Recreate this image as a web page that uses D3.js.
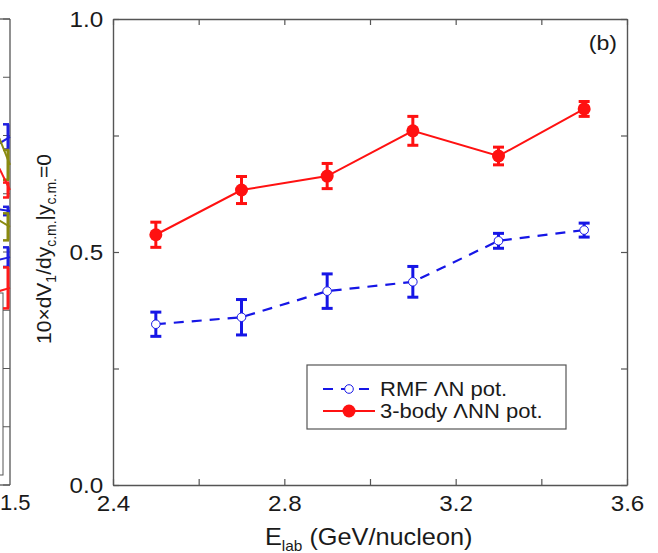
<!DOCTYPE html>
<html>
<head>
<meta charset="utf-8">
<script src="https://cdn.jsdelivr.net/npm/d3@7"></script>
<style>
  html, body { margin: 0; padding: 0; background: #fff; }
  svg { display: block; font-family: "Liberation Sans", Arial, sans-serif; }
</style>
</head>
<body>
<svg id="chart" width="658" height="553"></svg>
<script>
// ---------------- data ----------------
const energies = [2.5, 2.7, 2.9, 3.1, 3.3, 3.5];
const rmfValues = [0.345, 0.360, 0.416, 0.436, 0.524, 0.547];
const rmfErrors = [0.026, 0.038, 0.037, 0.033, 0.016, 0.015];
const threeBodyValues = [0.537, 0.633, 0.663, 0.760, 0.706, 0.807];
const threeBodyErrors = [0.027, 0.029, 0.027, 0.031, 0.019, 0.016];
const seriesNames = ["RMF \u039BN pot.", "3-body \u039BNN pot."];
const xTickValues = [2.4, 2.6, 2.8, 3.0, 3.2, 3.4, 3.6];
const xTickLabels = ["2.4", "", "2.8", "", "3.2", "", "3.6"];
const yTickValues = [0, 0.25, 0.5, 0.75, 1.0];
const yTickLabels = ["0.0", "", "0.5", "", "1.0"];
const panelLabel = "(b)";

// fragment of neighbouring panel (a), only its right edge visible
const leftXs = [1.4, 1.5];
const leftTickValues = [0, 0.125, 0.25, 0.375, 0.5, 0.625, 0.75, 0.875, 1.0];
const leftTickLabel = "1.5";
const leftSeriesColors = ["#1f1fe0", "#8a8a10", "#ff1a1a", "#1f1fe0", "#8a8a10", "#1f1fe0", "#ff1a1a"];
const leftSeriesValues = [
  [0.70, 0.747], [0.88, 0.687], [0.79, 0.633], [0.60, 0.588],
  [0.60, 0.554], [0.47, 0.489], [0.40, 0.423]
];
const leftSeriesErrors = [0.027, 0.032, 0.016, 0.009, 0.029, 0.021, 0.044];

// ---------------- drawing ----------------
const svg = d3.select("#chart");
const W = 658, H = 553;
const m = { left: 113, right: 627, top: 19, bottom: 485 };
const textColor = "#1a1a1a";
const frameColor = "#555";
const RED = "#ff1111", BLUE = "#1616e6";
const STRETCH = "scale(1.1,1)";

const x = d3.scaleLinear().domain([2.4, 3.6]).range([m.left, m.right]);
const y = d3.scaleLinear().domain([0, 1]).range([m.bottom, m.top]);

// ---- left (cut-off) panel ----
const xl = d3.scaleLinear().domain([1.0, 1.5]).range([-170, 10]);
const gl = svg.append("g");
gl.append("rect").attr("x", -120).attr("y", 293).attr("width", 123).attr("height", 182)
  .attr("fill", "none").attr("stroke", frameColor).attr("stroke-width", 1);
gl.append("line").attr("x1", -5).attr("x2", xl(1.5)).attr("y1", y(1)).attr("y2", y(1))
  .attr("stroke", frameColor).attr("stroke-width", 1.3);
gl.append("line").attr("x1", -5).attr("x2", xl(1.5)).attr("y1", y(0)).attr("y2", y(0))
  .attr("stroke", frameColor).attr("stroke-width", 1.3);
gl.append("line").attr("x1", xl(1.5)).attr("x2", xl(1.5)).attr("y1", y(1)).attr("y2", y(0))
  .attr("stroke", frameColor).attr("stroke-width", 1.3);
gl.selectAll(".ltick").data(leftTickValues).join("line")
  .attr("x1", xl(1.5) - 7).attr("x2", xl(1.5)).attr("y1", d => y(d)).attr("y2", d => y(d))
  .attr("stroke", frameColor).attr("stroke-width", 1);
leftSeriesValues.forEach((vals, i) => {
  const col = leftSeriesColors[i];
  gl.append("path")
    .attr("d", d3.line().x((d, j) => xl(leftXs[j])).y(d => y(d))(vals))
    .attr("fill", "none").attr("stroke", col).attr("stroke-width", 2);
  const v = vals[vals.length - 1], e = leftSeriesErrors[i], cx = xl(leftXs[leftXs.length - 1]) - 2;
  gl.append("line").attr("x1", cx).attr("x2", cx).attr("y1", y(v - e)).attr("y2", y(v + e))
    .attr("stroke", col).attr("stroke-width", 3);
  [v - e, v + e].forEach(t => gl.append("line").attr("x1", cx - 5).attr("x2", cx + 1)
    .attr("y1", t === undefined ? 0 : y(t)).attr("y2", y(t)).attr("stroke", col).attr("stroke-width", 2.5));
});
gl.append("text").attr("x", 0).attr("y", 510).attr("text-anchor", "start")
  .attr("font-size", 22).attr("fill", textColor).text(leftTickLabel);

// ---- panel (b) axes ----
const tickLen = 6;
const axB = d3.axisBottom(x).tickValues(xTickValues).tickSizeInner(-tickLen).tickSizeOuter(0)
  .tickPadding(10).tickFormat((d, i) => xTickLabels[i]);
const axT = d3.axisTop(x).tickValues(xTickValues).tickSizeInner(-tickLen).tickSizeOuter(0).tickFormat("");
const axL = d3.axisLeft(y).tickValues(yTickValues).tickSizeInner(-tickLen).tickSizeOuter(0)
  .tickPadding(9).tickFormat((d, i) => yTickLabels[i]);
const axR = d3.axisRight(y).tickValues(yTickValues).tickSizeInner(-tickLen).tickSizeOuter(0).tickFormat("");

function styleAxis(g) {
  g.select(".domain").attr("stroke", frameColor).attr("stroke-width", 1.4);
  g.selectAll(".tick line").attr("stroke", frameColor).attr("stroke-width", 1.2);
  g.selectAll(".tick text").attr("fill", textColor).attr("font-size", 22)
    .attr("font-family", "Liberation Sans, Arial, sans-serif").attr("transform", STRETCH);
}
svg.append("g").attr("transform", `translate(0,${m.bottom})`).call(axB).call(styleAxis);
svg.append("g").attr("transform", `translate(0,${m.top})`).call(axT).call(styleAxis);
svg.append("g").attr("transform", `translate(${m.left},0)`).call(axL).call(styleAxis);
svg.append("g").attr("transform", `translate(${m.right},0)`).call(axR).call(styleAxis);

// ---- series ----
function drawErrorBars(vals, errs, color) {
  const g = svg.append("g");
  energies.forEach((e, i) => {
    const cx = x(e), lo = y(vals[i] - errs[i]), hi = y(vals[i] + errs[i]);
    g.append("line").attr("x1", cx).attr("x2", cx).attr("y1", lo).attr("y2", hi)
      .attr("stroke", color).attr("stroke-width", 3);
    [lo, hi].forEach(t => g.append("line").attr("x1", cx - 5.5).attr("x2", cx + 5.5)
      .attr("y1", t).attr("y2", t).attr("stroke", color).attr("stroke-width", 3));
  });
}
const line = d3.line().x((d, i) => x(energies[i])).y(d => y(d));

// RMF (blue dashed, open circles)
svg.append("path").attr("d", line(rmfValues)).attr("fill", "none")
  .attr("stroke", BLUE).attr("stroke-width", 2.2).attr("stroke-dasharray", "10,8");
drawErrorBars(rmfValues, rmfErrors, BLUE);
svg.append("g").selectAll("circle").data(rmfValues).join("circle")
  .attr("cx", (d, i) => x(energies[i])).attr("cy", d => y(d)).attr("r", 4.3)
  .attr("fill", "#fff").attr("stroke", BLUE).attr("stroke-width", 1);

// 3-body (red solid, filled circles)
svg.append("path").attr("d", line(threeBodyValues)).attr("fill", "none")
  .attr("stroke", RED).attr("stroke-width", 2);
drawErrorBars(threeBodyValues, threeBodyErrors, RED);
svg.append("g").selectAll("circle").data(threeBodyValues).join("circle")
  .attr("cx", (d, i) => x(energies[i])).attr("cy", d => y(d)).attr("r", 6.5)
  .attr("fill", RED);

// ---- legend ----
const lg = svg.append("g");
lg.append("rect").attr("x", 307).attr("y", 365).attr("width", 259).attr("height", 64)
  .attr("fill", "#fff").attr("stroke", frameColor).attr("stroke-width", 1.2);
const rows = [
  { y: 389, color: BLUE, dash: "10,8", name: seriesNames[0], open: true },
  { y: 411, color: RED, dash: null, name: seriesNames[1], open: false }
];
rows.forEach(r => {
  lg.append("line").attr("x1", 323).attr("x2", 375).attr("y1", r.y).attr("y2", r.y)
    .attr("stroke", r.color).attr("stroke-width", 2.2).attr("stroke-dasharray", r.dash);
  if (r.open) {
    lg.append("circle").attr("cx", 349).attr("cy", r.y).attr("r", 4.3)
      .attr("fill", "#fff").attr("stroke", r.color).attr("stroke-width", 1);
  } else {
    lg.append("circle").attr("cx", 349).attr("cy", r.y).attr("r", 6.5).attr("fill", r.color);
  }
  lg.append("text").attr("transform", `translate(380,${r.y + 7}) ${STRETCH}`)
    .attr("font-size", 20).attr("fill", textColor).text(r.name);
});

// ---- panel label ----
svg.append("text").attr("transform", `translate(617,50) ${STRETCH}`).attr("text-anchor", "end")
  .attr("font-size", 21).attr("fill", textColor).text(panelLabel);

// ---- axis titles ----
const xt = svg.append("text").attr("transform", `translate(265,545) ${STRETCH}`)
  .attr("font-size", 23).attr("fill", textColor);
xt.append("tspan").text("E");
xt.append("tspan").attr("font-size", 14).attr("dy", 6).text("lab");
xt.append("tspan").attr("dy", -6).text(" (GeV/nucleon)");

const yt = svg.append("text").attr("transform", "translate(51,249) rotate(-90)")
  .attr("text-anchor", "middle").attr("font-size", 21).attr("fill", textColor);
yt.append("tspan").text("10\u00D7dV");
yt.append("tspan").attr("font-size", 14).attr("dy", 5).text("1");
yt.append("tspan").attr("dy", -5).text("/dy");
yt.append("tspan").attr("font-size", 14).attr("dy", 5).text("c.m.");
yt.append("tspan").attr("dy", -5).text("|y");
yt.append("tspan").attr("font-size", 14).attr("dy", 5).text("c.m.");
yt.append("tspan").attr("dy", -5).text("=0");
</script>
</body>
</html>
